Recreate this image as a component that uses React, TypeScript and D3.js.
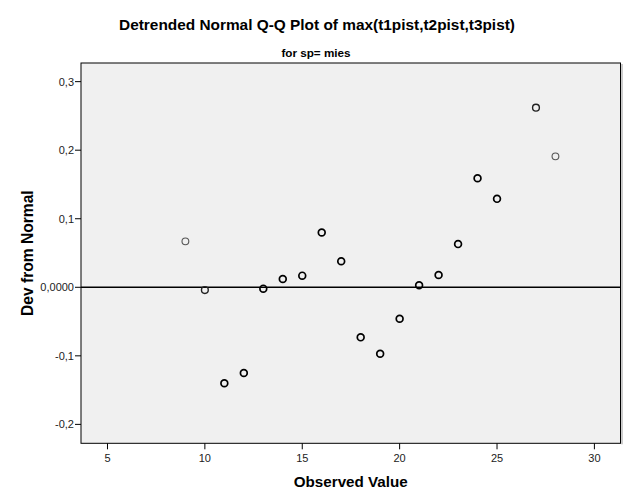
import React from "react";
import * as d3 from "d3";

const observed = [9, 10, 11, 12, 13, 14, 15, 16, 17, 18, 19, 20, 21, 22, 23, 24, 25, 27, 28];
const devFromNormal = [0.067, -0.004, -0.140, -0.125, -0.002, 0.012, 0.017, 0.080, 0.038, -0.073, -0.097, -0.046, 0.003, 0.018, 0.063, 0.159, 0.129, 0.262, 0.191];
const overlapCount = [1, 2, 3, 3, 3, 3, 3, 3, 3, 3, 3, 3, 3, 3, 3, 3, 3, 2, 1];
const xTicks = [5, 10, 15, 20, 25, 30];
const yTicks = [0.3, 0.2, 0.1, 0, -0.1, -0.2];
const yTickLabels = ["0,3", "0,2", "0,1", "0,0000", "-0,1", "-0,2"];

const W = 629;
const H = 504;
const left = 81;
const right = 620.5;
const top = 63;
const bottom = 443.3;
const FONT = "'Liberation Sans', Arial, sans-serif";

export default function App() {
  const x = d3.scaleLinear().domain([3.64, 31.34]).range([left, right]);
  const y = d3.scaleLinear().domain([0.3272, -0.2276]).range([top, bottom]);

  const strokeFor = (c: number) => (c === 1 ? "#555" : c === 2 ? "#222" : "#000");
  const widthFor = (c: number) => (c === 1 ? 1.1 : c === 2 ? 1.4 : 1.7);

  return (
    <svg
      width={W}
      height={H}
      style={{ position: "absolute", left: 0, top: 0, background: "#fff" }}
      fontFamily={FONT}
    >
      <rect x={0} y={0} width={W} height={H} fill="#fff" />
      <text x={317} y={30} textAnchor="middle" fontSize={15.4} fontWeight="bold" fill="#000">
        Detrended Normal Q-Q Plot of max(t1pist,t2pist,t3pist)
      </text>
      <text x={316} y={57} textAnchor="middle" fontSize={11.7} fontWeight="bold" fill="#000">
        for sp= mies
      </text>

      <rect x={left} y={top} width={right - left} height={bottom - top} fill="#F0F0F0" />
      <line x1={right + 1.5} x2={right + 1.5} y1={top + 1} y2={bottom + 1} stroke="#999" strokeWidth={1} />

      <line x1={left} x2={right} y1={y(0)} y2={y(0)} stroke="#000" strokeWidth={1.4} />

      {observed.map((v, i) => (
        <circle
          key={i}
          cx={x(v)}
          cy={y(devFromNormal[i])}
          r={3.4}
          fill="none"
          stroke={strokeFor(overlapCount[i])}
          strokeWidth={widthFor(overlapCount[i])}
        />
      ))}

      <rect x={left} y={top} width={right - left} height={bottom - top} fill="none" stroke="#000" strokeWidth={1} />

      {yTicks.map((t, i) => (
        <g key={i}>
          <line x1={left - 6} x2={left} y1={y(t)} y2={y(t)} stroke="#000" strokeWidth={1} />
          <text x={left - 7} y={y(t) + 4} textAnchor="end" fontSize={11} fill="#222">
            {yTickLabels[i]}
          </text>
        </g>
      ))}
      {xTicks.map((t, i) => (
        <g key={i}>
          <line x1={x(t)} x2={x(t)} y1={bottom} y2={bottom + 6} stroke="#000" strokeWidth={1} />
          <text x={x(t)} y={bottom + 19} textAnchor="middle" fontSize={11} fill="#222">
            {String(t)}
          </text>
        </g>
      ))}

      <text
        x={(left + right) / 2}
        y={487}
        textAnchor="middle"
        fontSize={15.2}
        fontWeight="bold"
        fill="#000"
      >
        Observed Value
      </text>
      <text
        transform={`translate(33, ${(top + bottom) / 2}) rotate(-90)`}
        textAnchor="middle"
        fontSize={15.6}
        fontWeight="bold"
        fill="#000"
      >
        Dev from Normal
      </text>
    </svg>
  );
}
